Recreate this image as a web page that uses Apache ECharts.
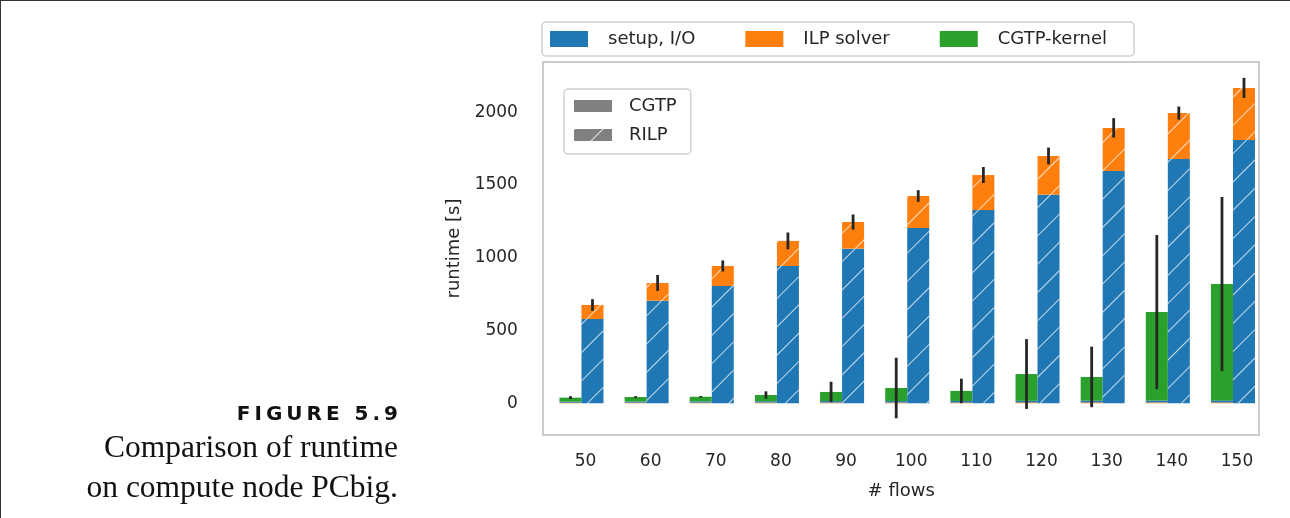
<!DOCTYPE html>
<html>
<head>
<meta charset="utf-8">
<title>Runtime on PCbig</title>
<script src="https://cdn.jsdelivr.net/npm/echarts@6/dist/echarts.min.js"></script>
<style>
  html, body { margin: 0; padding: 0; background: #fff; }
  #page { position: relative; width: 1290px; height: 518px; overflow: hidden; }
  #chart { position: absolute; left: 0; top: 0; width: 1290px; height: 518px; }
  .rule-top { position: absolute; left: 0; top: 0; width: 1290px; height: 1px; background: #333; }
  .rule-left { position: absolute; left: 0; top: 0; width: 1px; height: 518px; background: #333; }
  #caption { position: absolute; right: 892px; top: 403px; text-align: right; color: #111; white-space: nowrap; }
  #caption .fig { font: bold 20px "DejaVu Sans", sans-serif; letter-spacing: 4px; line-height: 20px; margin-right: -4px; }
  #caption .txt { font: 31.5px "Liberation Serif", serif; line-height: 40px; margin-top: 3.5px; }
</style>
</head>
<body>
<div id="page">
  <div id="chart"></div>
  <div class="rule-top"></div>
  <div class="rule-left"></div>
  <div id="caption">
    <div class="fig">FIGURE 5.9</div>
    <div class="txt">Comparison of runtime<br>on compute node PCbig.</div>
  </div>
</div>
<script>
// number of flows per instance
const flows = [50, 60, 70, 80, 90, 100, 110, 120, 130, 140, 150];

// CGTP runtime parts [s]
const cgtpSetup  = [7, 8, 9, 9, 10, 10, 11, 11, 12, 13, 14];
const cgtpIlp    = [4, 4, 4, 5, 5, 5, 5, 6, 6, 6, 6];
const cgtpKernel = [28, 31, 32, 43, 63, 90, 69, 184, 163, 608, 800];
const cgtpErr    = [10, 6, 5, 25, 70, 208, 84, 240, 208, 530, 598];

// RILP runtime parts [s]
const rilpSetup = [579, 705, 806, 944, 1063, 1205, 1328, 1434, 1597, 1679, 1810];
const rilpIlp   = [97, 122, 138, 172, 183, 220, 241, 266, 296, 316, 358];
const rilpErr   = [40, 55, 38, 58, 52, 40, 55, 58, 67, 45, 69];

const yTickValues = [0, 500, 1000, 1500, 2000];

const FONT = '"DejaVu Sans", sans-serif';
const TEXT = '#262626';
const BAR_W = 22;
const C_SETUP = '#1f77b4', C_ILP = '#ff7f0e', C_KERNEL = '#2ca02c', C_KEY = '#808080';

// plot frame (axes box) and the data area, which is one category band wide per flow count
const FRAME = { left: 543, top: 62, width: 716, height: 373 };
const PLOT = { left: 548.9, top: 62, width: 716.65, height: 373 };

// diagonal "/" hatch used for the RILP bars
const hatch = {
  symbol: 'rect', symbolSize: 1, color: 'rgba(255,255,255,0.75)',
  dashArrayX: [1, 0], dashArrayY: [1, 19], rotation: -Math.PI / 4
};

const sumOf = (...arrs) => arrs[0].map((_, i) => arrs.reduce((s, a) => s + a[i], 0));
const cgtpTotal = sumOf(cgtpSetup, cgtpIlp, cgtpKernel);
const rilpTotal = sumOf(rilpSetup, rilpIlp);
const categories = flows.map(String);

function bar(name, stack, values, color, decal) {
  return {
    type: 'bar', name, stack, data: values,
    barWidth: BAR_W, barGap: '0%', silent: true,
    itemStyle: decal ? { color, decal } : { color }
  };
}

// vertical error bar centred on the stacked total; side -1 = left bar, +1 = right bar
function errBars(name, total, err, side) {
  return {
    type: 'custom', name, silent: true, z: 10,
    data: total.map((t, i) => [i, t - err[i], t + err[i]]),
    encode: { x: 0, y: [1, 2] },
    renderItem(params, api) {
      const lo = api.coord([api.value(0), api.value(1)]);
      const hi = api.coord([api.value(0), api.value(2)]);
      const x = lo[0] + side * BAR_W / 2;
      return {
        type: 'line',
        shape: { x1: x, y1: lo[1], x2: x, y2: hi[1] },
        style: { stroke: '#262626', lineWidth: 2.8 }
      };
    }
  };
}

const chart = echarts.init(document.getElementById('chart'), null, { renderer: 'canvas' });
chart.setOption({
  animation: false,
  backgroundColor: '#fff',
  textStyle: { fontFamily: FONT },
  grid: { left: PLOT.left, top: PLOT.top, width: PLOT.width, height: PLOT.height },
  graphic: [{
    type: 'rect', silent: true, z: -1,
    shape: { x: FRAME.left, y: FRAME.top, width: FRAME.width, height: FRAME.height },
    style: { fill: 'none', stroke: '#cccccc', lineWidth: 2 }
  }],
  legend: [
    {
      data: ['setup, I/O', 'ILP solver', 'CGTP-kernel'],
      left: 542, top: 22, orient: 'horizontal', icon: 'rect',
      itemWidth: 38, itemHeight: 16, itemGap: 50, padding: [8, 27, 8, 8],
      backgroundColor: '#fff', borderColor: '#d0d0d0', borderWidth: 1.5, borderRadius: 4,
      selectedMode: false,
      textStyle: { fontFamily: FONT, fontSize: 18, color: TEXT, padding: [0, 0, 0, 15] }
    },
    {
      data: ['CGTP', 'RILP'],
      left: 564, top: 89, orient: 'vertical', icon: 'rect',
      itemWidth: 38, itemHeight: 12, itemGap: 11, padding: [8, 14, 10, 10],
      backgroundColor: '#fff', borderColor: '#d0d0d0', borderWidth: 1.5, borderRadius: 4,
      selectedMode: false,
      textStyle: { fontFamily: FONT, fontSize: 18, color: TEXT, padding: [0, 0, 0, 12] }
    }
  ],
  xAxis: {
    type: 'category', data: categories, boundaryGap: true,
    axisLine: { show: false }, axisTick: { show: false }, splitLine: { show: false },
    axisLabel: { margin: 18, fontSize: 17, color: TEXT, fontFamily: FONT, padding: [0, 0, 0, 8] },
    name: '# flows', nameLocation: 'middle', nameGap: 47,
    nameTextStyle: { fontSize: 18, color: TEXT, fontFamily: FONT, padding: [0, 12, 0, 0] }
  },
  yAxis: {
    type: 'value', min: -218, max: 2346,
    axisLine: { show: false }, axisTick: { show: false }, splitLine: { show: false },
    axisLabel: {
      customValues: yTickValues, formatter: v => String(v),
      margin: 31, fontSize: 17, color: TEXT, fontFamily: FONT, padding: [3, 0, 0, 0]
    },
    name: 'runtime [s]', nameLocation: 'middle', nameGap: 74, nameRotate: 90,
    nameTextStyle: { fontSize: 18, color: TEXT, fontFamily: FONT }
  },
  series: [
    bar('ILP solver', 'cgtp', cgtpIlp, C_ILP),
    bar('setup, I/O', 'cgtp', cgtpSetup, C_SETUP),
    bar('CGTP-kernel', 'cgtp', cgtpKernel, C_KERNEL),
    bar('setup, I/O', 'rilp', rilpSetup, C_SETUP, hatch),
    bar('ILP solver', 'rilp', rilpIlp, C_ILP, hatch),
    { type: 'bar', name: 'CGTP', stack: 'cgtp', data: [], barWidth: BAR_W, barGap: '0%', itemStyle: { color: C_KEY } },
    { type: 'bar', name: 'RILP', stack: 'rilp', data: [], barWidth: BAR_W, barGap: '0%', itemStyle: { color: C_KEY, decal: hatch } },
    errBars('cgtp-err', cgtpTotal, cgtpErr, -1),
    errBars('rilp-err', rilpTotal, rilpErr, 1)
  ]
});
</script>
</body>
</html>
